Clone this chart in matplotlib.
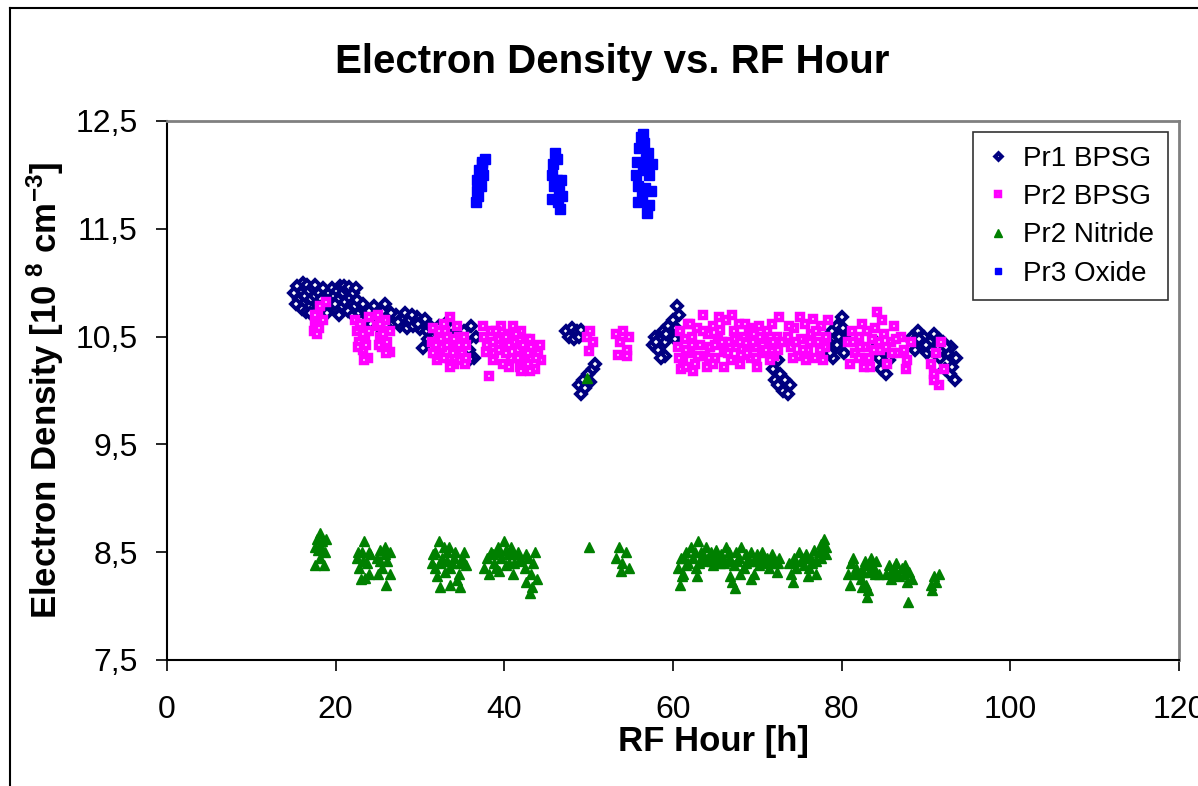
import numpy as np
import matplotlib
matplotlib.use('Agg')
import matplotlib.pyplot as plt
from matplotlib.lines import Line2D

plt.rcParams['font.family'] = ['Liberation Sans', 'DejaVu Sans']
plt.rcParams['mathtext.fontset'] = 'custom'
plt.rcParams['mathtext.rm'] = 'Liberation Sans:bold'
plt.rcParams['mathtext.bf'] = 'Liberation Sans:bold'
plt.rcParams['mathtext.default'] = 'bf'

# Pr1 BPSG (RF hour, density)
pr1_x = [15.6, 15.7, 15.9, 16.1, 16.2, 16.4, 16.6, 16.8, 16.9, 17.1, 17.3, 17.5, 17.8, 18.0, 18.3, 18.6, 18.9,
         19.2, 19.4, 19.6, 19.8, 20.0, 20.1, 20.3, 20.5, 20.7, 20.9, 21.1, 21.3, 21.5, 21.7, 21.9, 22.1, 22.3, 22.5,
         15.0, 15.3, 15.4, 16.0, 16.5, 17.0, 17.6, 18.1, 18.5, 19.0, 19.9, 20.4, 21.0, 21.6, 22.0, 22.4,
         22.8, 23.0, 23.4, 23.8, 24.2, 24.5, 24.9, 25.3, 25.6, 26.0, 26.4, 26.8, 27.2, 27.6, 28.0, 28.4, 28.8,
         29.2, 29.6, 30.0, 30.4, 30.8, 31.2, 31.5,
         23.2, 24.0, 25.0, 25.8, 26.6, 27.4, 28.2, 29.0, 29.8, 30.6, 31.0, 31.8, 32.3, 33.0, 33.8, 34.5, 30.4,
         35.2, 35.5, 35.8, 36.1, 36.4, 36.6, 35.9,
         47.3, 47.7, 48.0, 48.3, 48.6, 48.9, 49.1,
         48.8, 49.1, 49.3, 49.6, 49.9, 50.2, 50.5, 50.7,
         57.6, 57.9, 58.2, 58.5, 58.8, 59.1, 59.4, 59.7, 60.0, 60.3, 60.5, 60.7, 59.0, 58.0, 59.2, 60.2, 58.6,
         71.8, 72.1, 72.4, 72.7, 73.0, 73.3, 73.6, 73.9, 72.5,
         78.4, 78.8, 79.1, 79.4, 79.7, 80.0, 80.3, 80.5, 79.0, 78.6, 79.5, 80.2,
         84.1, 84.4, 84.7, 85.0, 85.3, 85.6,
         88.3, 88.7, 89.0, 89.4, 89.8, 90.1, 90.5, 90.9, 91.3, 91.7, 92.0, 92.3, 92.6, 92.9, 93.2, 93.4, 93.0,
         88.5, 89.2, 90.0, 90.7, 91.5, 92.4, 93.1, 93.5]
pr1_y = [10.85, 10.95, 10.9, 11.0, 10.8, 10.88, 10.98, 10.92, 10.78, 10.85, 10.95, 10.88, 10.8, 10.9, 10.85, 10.75, 10.82,
         10.9, 10.8, 10.95, 10.88, 10.75, 10.92, 10.84, 10.97, 10.78, 10.9, 10.82, 10.93, 10.74, 10.86, 10.8, 10.9, 10.78, 10.84,
         10.9, 10.8, 10.97, 10.76, 10.73, 10.72, 10.98, 10.76, 10.95, 10.72, 10.8, 10.7, 10.97, 10.96, 10.7, 10.95,
         10.72, 10.65, 10.75, 10.7, 10.62, 10.78, 10.7, 10.66, 10.74, 10.6, 10.68, 10.63, 10.7, 10.6, 10.66, 10.58, 10.65,
         10.6, 10.68, 10.57, 10.63, 10.55, 10.6, 10.5,
         10.8, 10.74, 10.6, 10.8, 10.72, 10.64, 10.72, 10.7, 10.62, 10.66, 10.48, 10.56, 10.6, 10.62, 10.58, 10.56, 10.39,
         10.55, 10.45, 10.38, 10.6, 10.3, 10.5, 10.29,
         10.55, 10.5, 10.58, 10.48, 10.55, 10.5, 10.56,
         10.05, 9.97, 10.1, 10.02, 10.15, 10.08, 10.2, 10.25,
         10.42, 10.5, 10.38, 10.47, 10.55, 10.45, 10.6, 10.52, 10.65, 10.58, 10.78, 10.7, 10.32, 10.45, 10.52, 10.48, 10.3,
         10.2, 10.1, 10.05, 10.15, 10.0, 10.1, 9.97, 10.05, 10.28,
         10.45, 10.55, 10.4, 10.6, 10.5, 10.68, 10.35, 10.48, 10.3, 10.35, 10.42, 10.58,
         10.45, 10.3, 10.2, 10.38, 10.15, 10.28,
         10.5, 10.38, 10.55, 10.42, 10.5, 10.35, 10.45, 10.52, 10.4, 10.3, 10.45, 10.2, 10.35, 10.15, 10.3, 10.1, 10.4,
         10.45, 10.48, 10.42, 10.38, 10.48, 10.4, 10.22, 10.3]

# Pr2 BPSG
pr2_x = [17.4, 17.6, 17.9, 18.2, 18.5, 18.8, 18.0, 17.5, 17.8,
         22.3, 22.5, 22.8, 23.0, 23.3, 23.5, 23.8, 24.0, 22.6, 23.6, 22.9, 23.2, 23.9, 23.4,
         24.9, 25.2, 25.5, 25.8, 26.1, 26.4, 26.5, 25.0, 25.3, 25.6, 26.0, 25.1,
         31.4, 31.8, 32.2, 32.6, 33.0, 33.4, 33.8, 34.2, 34.6, 35.0, 35.4, 32.0, 32.9, 33.6, 34.0, 34.4, 33.2,
         31.6, 34.8, 35.3, 32.4, 31.5, 32.5, 33.2, 33.9, 34.6, 35.2, 32.8, 34.0, 31.9, 35.5, 32.3, 33.6,
         37.6, 38.0, 38.4, 38.8, 39.2, 39.6, 40.0, 40.4, 40.8, 41.2, 41.6, 42.0, 42.4, 42.8, 43.2, 43.6, 44.0,
         44.3, 38.2, 38.6, 39.8, 41.0, 42.6, 43.0, 40.2, 41.8,
         37.8, 38.6, 39.4, 40.2, 40.6, 41.4, 42.2, 43.0, 43.8, 39.0, 41.6, 42.8, 44.2, 37.5, 40.6, 42.0,
         49.8, 50.2, 50.5, 50.0,
         53.3, 53.7, 54.1, 54.5, 54.8, 53.5, 54.6,
         60.6, 60.8, 61.2, 61.4, 61.8, 62.0, 62.3, 62.6, 62.9, 63.2, 63.5, 63.8, 64.1, 64.4, 64.7, 65.0, 65.3,
         65.6, 66.0, 66.3, 66.6, 66.9, 67.2, 67.5, 67.8, 68.1, 68.4, 68.7, 69.0, 69.3, 69.6, 69.9, 70.2, 70.5,
         70.8, 71.1, 71.4, 71.7, 72.0, 72.3, 72.6, 72.9, 61.0, 62.4, 64.0, 66.0, 68.0, 70.0, 65.5, 67.0,
         60.7, 61.5, 62.2, 63.0, 63.6, 64.3, 65.0, 65.8, 66.5, 67.3, 68.0, 68.8, 69.5, 70.3, 71.0, 71.8, 72.5,
         64.8, 69.8, 71.5, 62.0, 68.5, 61.6,
         73.6, 74.0, 74.4, 74.8, 75.2, 75.6, 76.0, 76.4, 76.8, 77.2, 77.6, 78.0, 78.4, 75.0, 76.6, 77.8, 74.2,
         73.8, 74.6, 75.4, 76.2, 77.0, 77.4, 78.2, 75.8,
         80.8, 81.2, 81.6, 82.0, 82.4, 82.8, 83.2, 83.6, 84.0, 84.2, 84.6, 85.0, 85.4, 85.8, 86.2, 86.6, 81.0,
         82.6, 84.8, 87.0, 87.4, 87.8, 88.2, 87.6,
         81.4, 82.2, 83.0, 83.8, 84.4, 85.2, 86.0, 86.4, 82.0, 83.4,
         90.6, 90.9, 91.2, 91.5, 91.8, 92.1, 91.0]
pr2_y = [10.55, 10.62, 10.7, 10.78, 10.65, 10.82, 10.58, 10.7, 10.52,
         10.65, 10.55, 10.45, 10.6, 10.38, 10.5, 10.3, 10.68, 10.4, 10.42, 10.62, 10.52, 10.55, 10.28,
         10.6, 10.5, 10.4, 10.65, 10.45, 10.55, 10.36, 10.7, 10.62, 10.52, 10.35, 10.42,
         10.45, 10.35, 10.5, 10.4, 10.55, 10.3, 10.45, 10.38, 10.5, 10.35, 10.42, 10.28, 10.62, 10.68, 10.25, 10.6, 10.42,
         10.58, 10.28, 10.25, 10.33, 10.35, 10.48, 10.5, 10.35, 10.42, 10.5, 10.3, 10.48, 10.42, 10.3, 10.55, 10.22,
         10.5, 10.42, 10.55, 10.35, 10.48, 10.6, 10.4, 10.52, 10.3, 10.45, 10.38, 10.55, 10.32, 10.25, 10.4, 10.2, 10.35,
         10.28, 10.13, 10.28, 10.25, 10.6, 10.48, 10.18, 10.35, 10.22,
         10.36, 10.45, 10.38, 10.5, 10.42, 10.52, 10.42, 10.48, 10.3, 10.55, 10.3, 10.35, 10.42, 10.6, 10.22, 10.18,
         10.5, 10.55, 10.45, 10.37,
         10.52, 10.45, 10.55, 10.38, 10.5, 10.33, 10.32,
         10.4, 10.55, 10.28, 10.48, 10.62, 10.35, 10.5, 10.25, 10.58, 10.42, 10.7, 10.32, 10.52, 10.4, 10.6, 10.3, 10.48,
         10.56, 10.36, 10.65, 10.45, 10.28, 10.55, 10.4, 10.62, 10.33, 10.5, 10.44, 10.58, 10.3, 10.52, 10.4, 10.6, 10.35,
         10.48, 10.55, 10.42, 10.62, 10.32, 10.5, 10.68, 10.45, 10.2, 10.18, 10.22, 10.22, 10.25, 10.22, 10.68, 10.7,
         10.3, 10.38, 10.42, 10.32, 10.55, 10.3, 10.42, 10.45, 10.35, 10.48, 10.45, 10.35, 10.45, 10.5, 10.38, 10.45, 10.38,
         10.25, 10.3, 10.28, 10.62, 10.62, 10.22,
         10.5, 10.4, 10.58, 10.32, 10.48, 10.62, 10.38, 10.52, 10.3, 10.45, 10.6, 10.4, 10.65, 10.68, 10.66, 10.28, 10.3,
         10.6, 10.45, 10.38, 10.45, 10.55, 10.38, 10.5, 10.28,
         10.45, 10.55, 10.35, 10.5, 10.62, 10.4, 10.3, 10.48, 10.58, 10.73, 10.38, 10.52, 10.25, 10.45, 10.6, 10.35, 10.25,
         10.22, 10.65, 10.5, 10.38, 10.28, 10.45, 10.2,
         10.45, 10.4, 10.55, 10.38, 10.45, 10.4, 10.35, 10.48, 10.3, 10.22,
         10.25, 10.15, 10.35, 10.05, 10.45, 10.2, 10.1]

# Pr2 Nitride
nit_x = [17.5, 17.8, 18.1, 18.4, 18.7, 18.2, 17.6, 18.6, 18.9, 17.9, 18.3,
         22.5, 22.8, 23.1, 23.4, 23.7, 24.0, 23.0, 23.5, 24.1, 22.7, 23.3, 23.9,
         24.9, 25.2, 25.5, 25.8, 26.1, 26.4, 25.0, 26.0, 26.5, 25.3, 25.9,
         31.4, 31.8, 32.2, 32.6, 33.0, 33.4, 33.8, 34.2, 34.6, 35.0, 35.4, 32.0, 32.4, 33.6, 34.8, 34.4, 33.2,
         31.6, 32.4, 33.2, 34.0, 34.8, 35.2, 33.6, 32.8, 31.8,
         37.6, 38.0, 38.4, 38.8, 39.2, 39.6, 40.0, 40.4, 40.8, 41.2, 41.6, 42.0, 42.4, 42.8, 43.2, 43.6, 43.9,
         38.2, 39.4, 41.0, 42.6, 43.0, 43.3, 40.2,
         38.6, 39.4, 40.2, 41.0, 41.8, 42.6, 43.4, 39.0, 40.6,
         49.8, 50.0,
         53.3, 53.6, 54.0, 54.4, 54.8, 53.8,
         60.6, 60.9, 61.2, 61.5, 61.8, 62.1, 62.4, 62.7, 63.0, 63.3, 63.6, 63.9, 64.2, 64.5, 64.8, 65.1, 65.4,
         65.7, 66.0, 66.3, 66.6, 66.9, 67.2, 67.5, 67.8, 68.1, 68.4, 68.7, 69.0, 69.3, 69.6, 69.9, 70.2, 70.5,
         70.8, 71.1, 71.4, 71.7, 72.0, 72.3, 72.6, 60.8, 61.1, 62.8, 66.8, 67.0, 67.3, 69.2, 68.0,
         61.3, 62.6, 63.6, 64.6, 65.6, 66.6, 67.6, 68.6, 69.6, 70.6, 71.6, 72.4, 61.6, 63.1, 65.0, 70.0,
         73.7, 74.0, 74.3, 74.6, 74.9, 75.2, 75.5, 75.8, 76.1, 76.4, 76.7, 77.0, 77.3, 77.6, 77.9, 78.1, 74.2,
         76.0, 77.0, 74.5, 75.5, 76.5, 77.5, 78.2, 77.8,
         80.8, 81.1, 81.4, 81.7, 82.0, 82.3, 82.6, 82.9, 83.2, 83.5, 83.8, 84.1, 84.4, 81.0, 83.0, 83.1, 82.4,
         81.5, 82.5, 83.5, 84.0, 82.8,
         85.3, 85.6, 85.9, 86.2, 86.5, 86.8, 87.1, 87.4, 87.7, 88.0, 88.3, 87.9, 85.8, 86.6, 87.5,
         90.6, 90.9, 91.2, 91.5, 90.7]
nit_y = [8.55, 8.62, 8.68, 8.6, 8.5, 8.45, 8.38, 8.38, 8.62, 8.52, 8.55,
         8.45, 8.35, 8.5, 8.6, 8.4, 8.3, 8.25, 8.26, 8.48, 8.5, 8.42, 8.5,
         8.45, 8.52, 8.35, 8.55, 8.42, 8.3, 8.3, 8.2, 8.5, 8.42, 8.48,
         8.4, 8.5, 8.6, 8.45, 8.32, 8.55, 8.4, 8.5, 8.3, 8.45, 8.38, 8.28, 8.18, 8.2, 8.18, 8.24, 8.42,
         8.48, 8.4, 8.5, 8.45, 8.4, 8.5, 8.35, 8.55, 8.35,
         8.35, 8.45, 8.5, 8.4, 8.55, 8.45, 8.6, 8.48, 8.55, 8.4, 8.5, 8.42, 8.35, 8.45, 8.3, 8.5, 8.25,
         8.3, 8.33, 8.3, 8.22, 8.12, 8.18, 8.38,
         8.48, 8.5, 8.52, 8.48, 8.45, 8.48, 8.4, 8.35, 8.4,
         10.12, 8.55,
         8.45, 8.55, 8.4, 8.5, 8.35, 8.33,
         8.35, 8.45, 8.3, 8.5, 8.4, 8.55, 8.45, 8.35, 8.6, 8.5, 8.42, 8.55, 8.45, 8.5, 8.38, 8.52, 8.45,
         8.48, 8.4, 8.55, 8.5, 8.42, 8.38, 8.5, 8.45, 8.55, 8.35, 8.48, 8.42, 8.5, 8.3, 8.45, 8.38, 8.5,
         8.4, 8.45, 8.35, 8.48, 8.4, 8.32, 8.45, 8.2, 8.28, 8.28, 8.28, 8.22, 8.17, 8.25, 8.3,
         8.45, 8.5, 8.48, 8.42, 8.4, 8.45, 8.42, 8.4, 8.42, 8.45, 8.42, 8.4, 8.38, 8.4, 8.45, 8.48,
         8.4, 8.3, 8.45, 8.35, 8.5, 8.42, 8.38, 8.48, 8.35, 8.45, 8.52, 8.42, 8.5, 8.58, 8.62, 8.48, 8.22,
         8.28, 8.3, 8.42, 8.45, 8.4, 8.45, 8.55, 8.52,
         8.3, 8.4, 8.45, 8.35, 8.3, 8.25, 8.38, 8.2, 8.32, 8.45, 8.35, 8.42, 8.3, 8.2, 8.08, 8.15, 8.18,
         8.3, 8.32, 8.38, 8.3, 8.42,
         8.3, 8.38, 8.25, 8.35, 8.4, 8.28, 8.35, 8.3, 8.22, 8.32, 8.25, 8.04, 8.32, 8.3, 8.38,
         8.2, 8.28, 8.22, 8.3, 8.15]

# Pr3 Oxide
pr3_x = [36.6, 36.7, 36.8, 37.0, 37.2, 37.4, 37.5, 37.7, 37.3, 36.9,
         45.6, 45.8, 46.0, 46.3, 45.9, 46.2, 46.5, 46.7, 46.4, 46.8, 46.6, 45.7,
         55.6, 55.7, 55.9, 56.0, 56.2, 56.4, 56.6, 56.8, 57.0, 57.2, 56.3, 56.7, 57.1, 56.9, 55.8, 57.4, 57.5, 56.5]
pr3_y = [11.75, 11.85, 11.95, 12.05, 11.9, 12.1, 12.0, 12.15, 12.12, 11.8,
         12.0, 12.1, 12.2, 12.15, 11.9, 11.95, 11.85, 11.95, 11.75, 11.8, 11.68, 11.78,
         12.0, 12.12, 11.9, 12.25, 12.35, 12.05, 12.3, 12.15, 12.2, 12.0, 11.8, 11.88, 11.72, 11.65, 11.75, 11.85, 12.1, 12.38]

labels = ['Pr1 BPSG', 'Pr2 BPSG', 'Pr2 Nitride', 'Pr3 Oxide']

fig = plt.figure(figsize=(11.98, 7.86), dpi=100)
ax = fig.add_axes([167/1198, 126/786, 1012/1198, 539/786])

ax.plot(pr1_x, pr1_y, ls='none', marker='D', ms=4.8, mfc='white', mec='#000080', mew=2.8, label=labels[0])
ax.plot(pr2_x, pr2_y, ls='none', marker='s', ms=5, mfc='white', mec='#FF00FF', mew=3.2, label=labels[1])
ax.plot(nit_x, nit_y, ls='none', marker='^', ms=7.5, mfc='#008000', mec='#008000', mew=1, label=labels[2])
ax.plot(pr3_x, pr3_y, ls='none', marker='s', ms=6.5, mfc='#0000FF', mec='#0000FF', mew=1, label=labels[3])

ax.set_xlim(0, 120)
ax.set_ylim(7.5, 12.5)
ax.set_xticks(np.arange(0, 121, 20))
ax.set_yticks([7.5, 8.5, 9.5, 10.5, 11.5, 12.5])
ax.set_yticklabels(['7,5', '8,5', '9,5', '10,5', '11,5', '12,5'])
ax.tick_params(axis='both', direction='out', length=8, width=1.2, labelsize=23, color='black')
ax.tick_params(axis='y', pad=13)
ax.tick_params(axis='x', pad=17)
for s in ['top', 'right']:
    ax.spines[s].set_color('#808080')
    ax.spines[s].set_linewidth(2)
for s in ['left', 'bottom']:
    ax.spines[s].set_color('black')
    ax.spines[s].set_linewidth(1.5)

# outer chart border (cropped at right/bottom)
fig.add_artist(Line2D([10/1198, 10/1198], [0, 1 - 8/786], color='black', lw=1.5))
fig.add_artist(Line2D([10/1198, 1], [1 - 8/786, 1 - 8/786], color='black', lw=1.5))

fig.text(612/1198, 1 - 62/786, 'Electron Density vs. RF Hour', ha='center', va='center',
         fontsize=29, fontweight='bold')
fig.text(713/1198, 1 - 742/786, 'RF Hour [h]', ha='center', va='center', fontsize=25, fontweight='bold')
fig.text(45/1198, 1 - 390/786, r'Electron Density [10$^{\ 8}$ cm$^{-3}$]', ha='center', va='center',
         rotation=90, fontsize=25, fontweight='bold')

leg = ax.legend(loc='upper right', bbox_to_anchor=(1168/1198, 1 - 132/786), bbox_transform=fig.transFigure,
                fontsize=20, frameon=True, fancybox=False, borderaxespad=0, labelspacing=0.44,
                handlelength=0.8, handletextpad=0.5, borderpad=0.5, markerscale=0.7)
leg.get_frame().set_edgecolor('black')
leg.get_frame().set_linewidth(1.2)

fig.savefig('out.png', dpi=100)
